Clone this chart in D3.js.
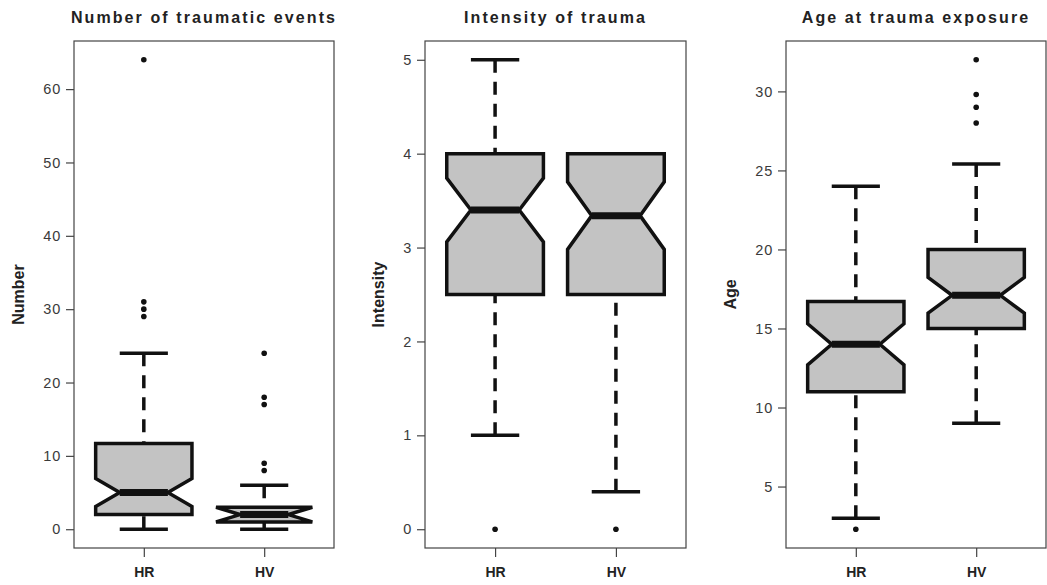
<!DOCTYPE html>
<html>
<head>
<meta charset="utf-8">
<script src="https://cdn.jsdelivr.net/npm/d3@7"></script>
<style>
  body { margin: 0; background: #fff; }
  svg { display: block; font-family: 'Liberation Sans', Arial, sans-serif; }
</style>
</head>
<body>
<script>
// DATA
const groups = ['HR', 'HV'];
const panelTitles = ['Number of traumatic events', 'Intensity of trauma', 'Age at trauma exposure'];
const yTitles = ['Number', 'Intensity', 'Age'];

// lo/hi = whisker ends, notch = half height of the notch
const eventsBox = [
  { lo: 0, q1: 2, med: 5, q3: 11.7, hi: 24, notch: 1.9 },
  { lo: 0, q1: 1, med: 2, q3: 3, hi: 6, notch: 1.0 }
];
const eventsOut = [[64, 31, 30, 29], [24, 18, 17, 9, 8]];
const eventsTicks = [0, 10, 20, 30, 40, 50, 60];

const intensityBox = [
  { lo: 1, q1: 2.5, med: 3.4, q3: 4, hi: 5, notch: 0.34 },
  { lo: 0.4, q1: 2.5, med: 3.34, q3: 4, hi: 4, notch: 0.36 }
];
const intensityOut = [[0], [0]];
const intensityTicks = [0, 1, 2, 3, 4, 5];

const ageBox = [
  { lo: 3, q1: 11, med: 14, q3: 16.7, hi: 24, notch: 1.3 },
  { lo: 9, q1: 15, med: 17.1, q3: 20, hi: 25.4, notch: 1.13 }
];
const ageOut = [[2.3], [32, 29.8, 29, 28]];
const ageTicks = [5, 10, 15, 20, 25, 30];

// CONFIGURATION
const width = 1047;
const height = 585;
const plotTop = 41;
const plotBottom = 548;
const panels = [
  { left: 74, right: 334, labelX: 18, box: eventsBox, out: eventsOut, ticks: eventsTicks },
  { left: 425, right: 686, labelX: 378, box: intensityBox, out: intensityOut, ticks: intensityTicks },
  { left: 786, right: 1046, labelX: 730, box: ageBox, out: ageOut, ticks: ageTicks }
];
const boxFill = '#c3c3c3';
const halfBox = 0.4;   // boxwex 0.8
const notchFrac = 0.5;

const svg = d3.select('body')
  .append('svg')
  .attr('width', width)
  .attr('height', height);

panels.forEach((p, i) => {
  const g = svg.append('g');

  // scales, extended 4% like base graphics
  const all = p.box.flatMap(b => [b.lo, b.hi]).concat(p.out.flat());
  const mn = d3.min(all), mx = d3.max(all);
  const pad = (mx - mn) * 0.04;
  const y = d3.scaleLinear().domain([mn - pad, mx + pad]).range([plotBottom, plotTop]);
  const x = d3.scaleLinear().domain([0.42, 2.58]).range([p.left, p.right]);

  // frame
  g.append('rect')
    .attr('x', p.left).attr('y', plotTop)
    .attr('width', p.right - p.left).attr('height', plotBottom - plotTop)
    .attr('fill', 'none').attr('stroke', '#444').attr('stroke-width', 1.2);

  // y axis
  const yAxis = d3.axisLeft(y).tickValues(p.ticks).tickFormat(d3.format('d'))
    .tickSize(8).tickPadding(5).tickSizeOuter(0);
  const ya = g.append('g').attr('transform', `translate(${p.left},0)`).call(yAxis);
  ya.select('.domain').remove();
  ya.selectAll('line').attr('stroke', '#444').attr('stroke-width', 1.2);
  ya.selectAll('text').attr('fill', '#3a3a3a').style('font-size', '14.5px').style('letter-spacing', '0.8px');

  // x axis
  const xAxis = d3.axisBottom(x).tickValues([1, 2]).tickFormat(d => groups[d - 1]).tickSize(9).tickPadding(10).tickSizeOuter(0);
  const xa = g.append('g').attr('transform', `translate(0,${plotBottom})`).call(xAxis);
  xa.select('.domain').remove();
  xa.selectAll('line').attr('stroke', '#444').attr('stroke-width', 1.2);
  xa.selectAll('text').attr('fill', '#222').style('font-size', '14px').style('font-weight', 'bold');

  // titles
  svg.append('text')
    .attr('x', (p.left + p.right) / 2).attr('y', 23)
    .attr('text-anchor', 'middle')
    .style('font-size', '16px').style('font-weight', 'bold').style('letter-spacing', '2.1px')
    .attr('fill', '#222')
    .text(panelTitles[i]);
  svg.append('text')
    .attr('transform', `translate(${p.labelX + 6},${(plotTop + plotBottom) / 2}) rotate(-90)`)
    .attr('text-anchor', 'middle')
    .style('font-size', '16px').style('font-weight', 'bold')
    .attr('fill', '#222')
    .text(yTitles[i]);

  // boxes
  p.box.forEach((b, k) => {
    const c = k + 1;
    // whiskers (dashed, drawn from whisker end toward hinge)
    [[b.hi, b.q3], [b.lo, b.q1]].forEach(([a, h]) => {
      if (a === h) return;
      g.append('line')
        .attr('x1', x(c)).attr('x2', x(c))
        .attr('y1', y(a)).attr('y2', y(h))
        .attr('stroke', '#111').attr('stroke-width', 3.5)
        .attr('stroke-dasharray', '13,9');
    });
    // staples
    [b.lo, b.hi].forEach(v => {
      g.append('line')
        .attr('x1', x(c - halfBox * 0.5)).attr('x2', x(c + halfBox * 0.5))
        .attr('y1', y(v)).attr('y2', y(v))
        .attr('stroke', '#111').attr('stroke-width', 3.5);
    });
    // notched box
    const xs = [-1, 1, 1, notchFrac, 1, 1, -1, -1, -notchFrac, -1];
    const ys = [b.q1, b.q1, b.med - b.notch, b.med, b.med + b.notch, b.q3, b.q3, b.med + b.notch, b.med, b.med - b.notch];
    const pts = xs.map((f, j) => [x(c + f * halfBox), y(ys[j])]);
    g.append('path')
      .attr('d', d3.line()(pts) + 'Z')
      .attr('fill', boxFill)
      .attr('stroke', '#111').attr('stroke-width', 3.5)
      .attr('stroke-linejoin', 'miter');
    // median
    g.append('line')
      .attr('x1', x(c - halfBox * notchFrac)).attr('x2', x(c + halfBox * notchFrac))
      .attr('y1', y(b.med)).attr('y2', y(b.med))
      .attr('stroke', '#111').attr('stroke-width', 7);
    // outliers
    g.selectAll(null)
      .data(p.out[k])
      .enter()
      .append('circle')
      .attr('cx', x(c)).attr('cy', d => y(d))
      .attr('r', 2.8)
      .attr('fill', '#111');
  });
});
</script>
</body>
</html>
